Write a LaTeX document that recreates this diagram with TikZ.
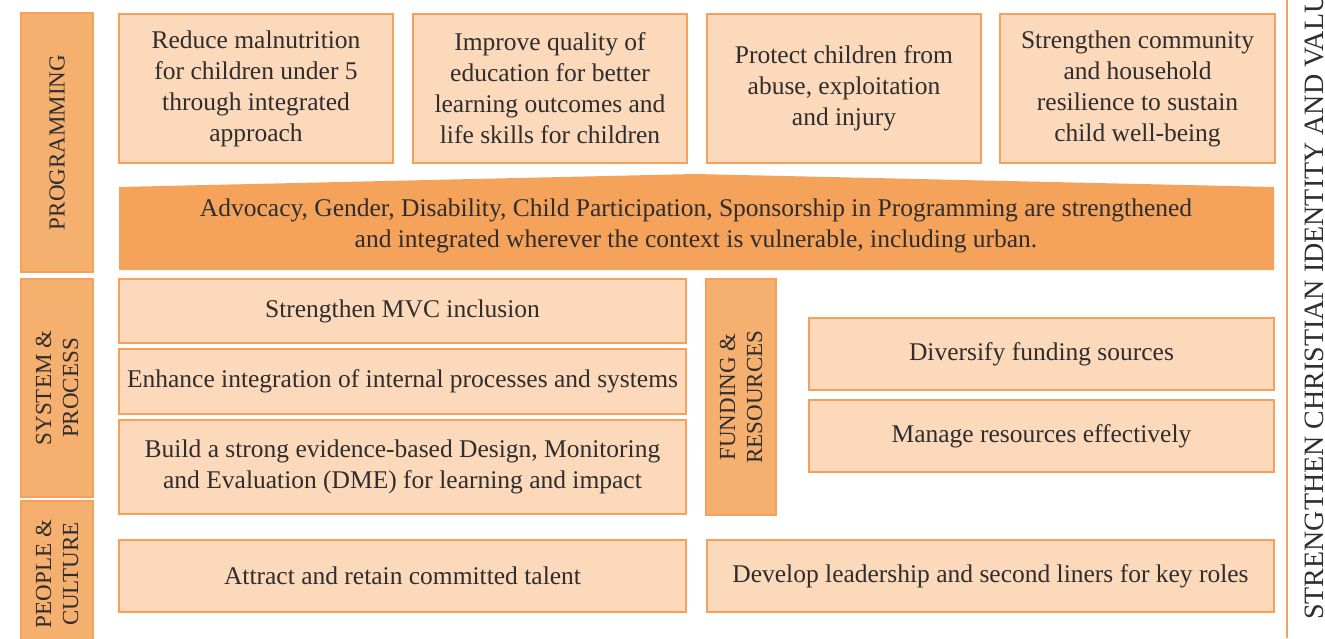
\documentclass[tikz,border=0pt]{standalone}
\usepackage{fontspec}
\setmainfont{Liberation Serif}
\definecolor{boxfill}{HTML}{FBD9BA}
\definecolor{boxline}{HTML}{F6A05A}
\definecolor{tagfill}{HTML}{F5B070}
\definecolor{bandfill}{HTML}{F5A25A}
\definecolor{inkgray}{HTML}{2F2D2E}

\begin{document}
\begin{tikzpicture}[x = 1pt, y = -1pt, font=\fontsize{25.5}{31}\selectfont, text = inkgray]
	\tikzstyle{goalStyle} = [shape = rectangle, draw = boxline, line width = 1.2pt, fill = boxfill, align = center, inner sep = 0pt]
	\tikzstyle{tagStyle} = [shape = rectangle, draw = boxline, line width = 1.2pt, fill = tagfill, align = center, inner sep = 0pt, rotate = 90, font = \fontsize{23}{27}\selectfont]
	\useasboundingbox (0,0) rectangle (1325,638);
	\clip (0,0) rectangle (1325,638);
	% row labels
	\node[tagStyle, minimum width = 259, minimum height = 72] (prog) at (57, 142.5) {PROGRAMMING};
	\node[tagStyle, minimum width = 218, minimum height = 72] (sys) at (57, 388) {SYSTEM \&\\PROCESS};
	\node[tagStyle, minimum width = 146, minimum height = 72] (people) at (57, 574) {PEOPLE \&\\CULTURE};
	% programming goals
	\node[goalStyle, minimum width = 274, minimum height = 149] (g1) at (256, 88.5) {Reduce malnutrition\\for children under 5\\through integrated\\approach};
	\node[goalStyle, minimum width = 274, minimum height = 149] (g2) at (550, 88.5) {Improve quality of\\education for better\\learning outcomes and\\life skills for children};
	\node[goalStyle, minimum width = 274, minimum height = 149] (g3) at (844, 88.5) {Protect children from\\abuse, exploitation\\and injury};
	\node[goalStyle, minimum width = 275, minimum height = 149] (g4) at (1137.5, 88.5) {Strengthen community\\and household\\resilience to sustain\\child well-being};
	% banner
	\fill[bandfill] (119,187) -- (695,174) -- (1274,187) -- (1274,270) -- (119,270) -- cycle;
	\node[align = center] (band) at (696, 226) {Advocacy, Gender, Disability, Child Participation, Sponsorship in Programming are strengthened\\and integrated wherever the context is vulnerable, including urban.};
	% system & process
	\node[goalStyle, minimum width = 567, minimum height = 64] (s1) at (402.5, 311) {Strengthen MVC inclusion};
	\node[goalStyle, minimum width = 567, minimum height = 65] (s2) at (402.5, 381.5) {Enhance integration of internal processes and systems};
	\node[goalStyle, minimum width = 567, minimum height = 94] (s3) at (402.5, 467) {Build a strong evidence-based Design, Monitoring\\and Evaluation (DME) for learning and impact};
	% funding & resources
	\node[tagStyle, minimum width = 236, minimum height = 70] (fund) at (741, 397) {FUNDING \&\\RESOURCES};
	\node[goalStyle, minimum width = 465, minimum height = 72] (f1) at (1041.5, 354) {Diversify funding sources};
	\node[goalStyle, minimum width = 465, minimum height = 72] (f2) at (1041.5, 436) {Manage resources effectively};
	% people & culture
	\node[goalStyle, minimum width = 567, minimum height = 72] (p1) at (402.5, 576) {Attract and retain committed talent};
	\node[goalStyle, minimum width = 567, minimum height = 72] (p2) at (990.5, 576) {Develop leadership and second liners for key roles};
	% side bar
	\coordinate (topline) at (1287, 0);
	\coordinate (botline) at (1287, 638);
	\draw[boxline, line width = 1.2pt] (topline) -- (botline);
	\node[rotate = 90, anchor = base west, inner sep = 0pt, font = \fontsize{28}{33}\selectfont] (values) at (1323, 620) {STRENGTHEN CHRISTIAN IDENTITY AND VALUES};
\end{tikzpicture}
\end{document}
